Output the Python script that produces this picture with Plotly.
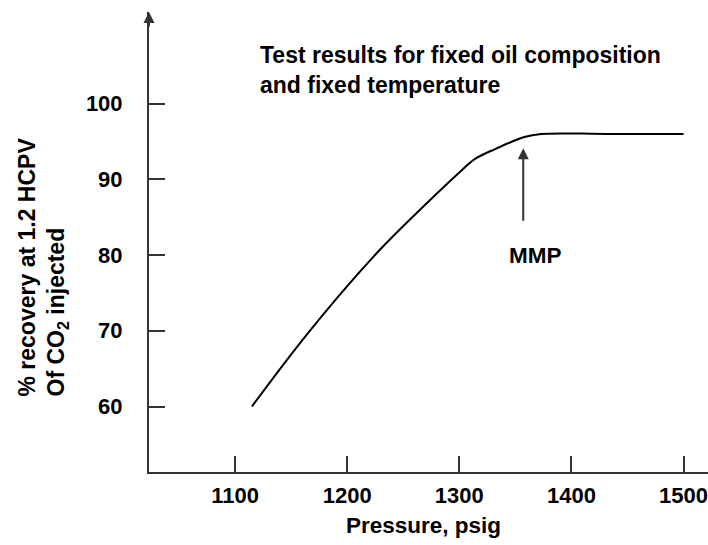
import plotly.graph_objects as go

# Data
pressure_psig = [1115, 1165, 1226, 1270, 1300, 1314, 1332, 1358, 1373, 1432, 1500]
recovery_pct = [60.0, 69.7, 80.2, 86.7, 90.9, 92.7, 94.0, 95.6, 96.0, 96.0, 96.0]

x_ticks = [1100, 1200, 1300, 1400, 1500]
y_ticks = [60, 70, 80, 90, 100]

mmp_pressure = 1357
mmp_recovery = 94.1

title_text = "Test results for fixed oil composition<br>and fixed temperature"
x_title = "Pressure, psig"
y_title = "% recovery at 1.2 HCPV<br>Of CO<sub>2</sub> injected"

FONT = "Arial, 'Liberation Sans', Helvetica, sans-serif"
AX = "#333333"

fig = go.Figure()
fig.add_trace(go.Scatter(
    x=pressure_psig, y=recovery_pct, mode="lines",
    line=dict(color="black", width=2, shape="spline", smoothing=1.0),
    hoverinfo="skip", showlegend=False,
))

axis_font = dict(family=FONT, size=22, color="black", weight="bold")

fig.update_layout(
    width=708, height=545, autosize=False,
    margin=dict(l=149, r=0, t=12, b=73),
    paper_bgcolor="white", plot_bgcolor="white",
    showlegend=False,
    xaxis=dict(
        range=[1023.2, 1521.8], tickvals=x_ticks, ticktext=[str(v) for v in x_ticks],
        ticks="inside", ticklen=16, tickwidth=2, tickcolor=AX,
        showline=True, linecolor=AX, linewidth=2, mirror=False,
        showgrid=False, zeroline=False, tickfont=axis_font,
        ticklabelstandoff=3, ticklabeloverflow="allow",
    ),
    yaxis=dict(
        range=[51.35, 112.1], tickvals=y_ticks, ticktext=[str(v) for v in y_ticks],
        ticks="inside", ticklen=16, tickwidth=2, tickcolor=AX,
        showline=True, linecolor=AX, linewidth=2, mirror=False,
        showgrid=False, zeroline=False, tickfont=axis_font,
        ticklabelstandoff=20, ticklabeloverflow="allow",
    ),
)

# Arrowhead on top of the y axis
fig.add_annotation(
    x=0, y=1, xref="paper", yref="paper", text="",
    showarrow=True, ax=0, ay=16, arrowhead=2, arrowsize=1.1,
    arrowwidth=2, arrowcolor=AX,
)

# Title text block
fig.add_annotation(
    x=(258 - 149) / 559, y=(472 - 40) / 460, xref="paper", yref="paper",
    text=title_text, showarrow=False, align="left",
    xanchor="left", yanchor="top",
    font=dict(family=FONT, size=23, color="black", weight="bold"),
)

# MMP arrow
fig.add_annotation(
    x=mmp_pressure, y=mmp_recovery, xref="x", yref="y", text="",
    showarrow=True, ax=0, ay=74, arrowhead=2, arrowsize=1.1,
    arrowwidth=2, arrowcolor=AX,
)
fig.add_annotation(
    x=mmp_pressure + 11, y=80, xref="x", yref="y", text="MMP",
    showarrow=False, xanchor="center", yanchor="middle",
    font=dict(family=FONT, size=22.5, color="black", weight="bold"),
)

# X axis title
fig.add_annotation(
    x=(423 - 149) / 559, y=(472 - 525) / 460, xref="paper", yref="paper",
    text=x_title, showarrow=False, xanchor="center", yanchor="middle",
    font=dict(family=FONT, size=22.5, color="black", weight="bold"),
)

# Y axis title (two left-aligned rotated lines)
fig.add_annotation(
    x=(43 - 149) / 559, y=(472 - 399) / 460, xref="paper", yref="paper",
    text=y_title, showarrow=False, textangle=-90, align="left",
    xanchor="center", yanchor="bottom",
    font=dict(family=FONT, size=23, color="black", weight="bold"),
)

fig.write_html("out.html")
